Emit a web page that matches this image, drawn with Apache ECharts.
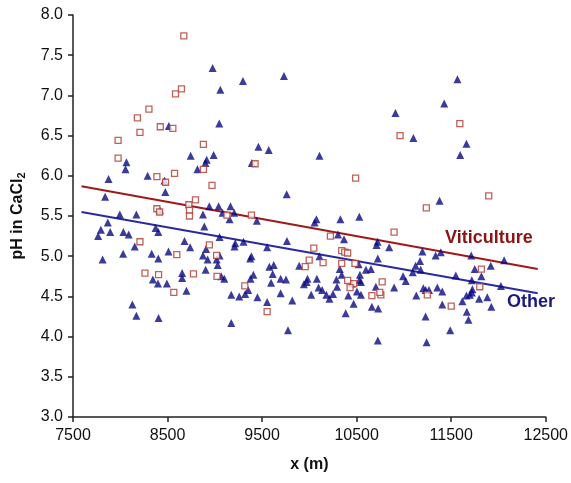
<!DOCTYPE html>
<html>
<head>
<meta charset="utf-8">
<script src="https://cdn.jsdelivr.net/npm/echarts@6/dist/echarts.min.js"></script>
<style>
  html, body { margin: 0; padding: 0; background: #fff; }
  #chart { width: 571px; height: 483px; }
</style>
</head>
<body>
<div id="chart"></div>
<script>
// x (m), pH in CaCl2
const otherPoints = [
  [8977, 7.34], [9058, 7.07], [9047, 6.65], [8514, 6.62], [8745, 6.25], [8987, 6.26], [8914, 6.20], [8900, 6.16],
  [8816, 6.08], [8065, 6.17], [8055, 6.08], [7876, 5.96], [8289, 6.00], [8468, 5.94], [8476, 5.80], [7840, 5.74],
  [8942, 5.62], [9040, 5.62], [9166, 5.62], [9297, 7.18], [9731, 7.24], [10910, 6.78], [9461, 6.36], [9570, 6.32],
  [10107, 6.25], [9391, 6.16], [9760, 5.77], [11566, 7.20], [11426, 6.90], [11100, 6.47], [11661, 6.40], [11595, 6.26],
  [11377, 5.69],
  [7995, 5.52], [8170, 5.52], [7868, 5.42], [7795, 5.33], [7893, 5.30], [7766, 5.25], [8033, 5.30], [8089, 5.27],
  [8374, 5.35], [8402, 5.30], [8419, 5.57], [8153, 5.12], [7813, 4.96], [8030, 5.03], [8332, 5.03], [8402, 4.97],
  [8510, 5.06], [8345, 4.71], [8398, 4.66], [8493, 4.66], [8128, 4.40], [8170, 4.26], [8405, 4.23],
  [8875, 5.52], [9082, 5.54], [9205, 5.54], [9156, 5.46], [9444, 5.44], [8889, 5.37], [9050, 5.24], [9216, 5.16],
  [9208, 5.12], [9303, 5.18], [8679, 5.19], [8739, 5.11], [8907, 5.09], [8875, 5.01], [8924, 4.96], [9050, 5.01],
  [9019, 4.96], [9030, 4.89], [9387, 5.00], [9374, 4.97], [8903, 4.83], [8654, 4.79], [8654, 4.73], [8700, 4.57],
  [9068, 4.75], [9100, 4.72], [9408, 4.77], [9377, 4.72], [9174, 4.52], [9258, 4.50], [9321, 4.53], [9353, 4.58],
  [9451, 4.49], [9174, 4.17],
  [10075, 5.46], [10055, 5.42], [10328, 5.46], [10303, 5.27], [10366, 5.21], [9763, 5.19], [9553, 5.11], [10107, 5.00],
  [9577, 4.87], [9623, 4.89], [9612, 4.78], [9696, 4.72], [9753, 4.71], [9595, 4.67], [9892, 4.88], [9980, 4.72],
  [9970, 4.68], [9942, 4.65], [10079, 4.72], [10097, 4.61], [10135, 4.58], [10180, 4.52], [10212, 4.47], [10250, 4.53],
  [10286, 4.71], [10293, 4.62], [10321, 4.84], [10342, 4.77], [10412, 4.51], [10450, 4.66], [10019, 4.52], [9819, 4.45],
  [9696, 4.54], [9553, 4.43], [10384, 4.29], [9774, 4.08],
  [10528, 5.49], [10721, 5.18], [10710, 5.14], [10844, 5.11], [11195, 5.06], [11335, 5.01], [11390, 5.05], [10724, 4.97],
  [11170, 4.94], [11124, 4.88], [11177, 4.83], [11093, 4.80], [10521, 4.90], [10598, 4.83], [10651, 4.84], [10535, 4.77],
  [10528, 4.70], [10545, 4.68], [10991, 4.75], [11019, 4.69], [10896, 4.61], [10703, 4.62], [10503, 4.56], [10545, 4.52],
  [11205, 4.60], [11230, 4.58], [11265, 4.58], [11353, 4.61], [11405, 4.56], [11131, 4.51], [10468, 4.41], [10661, 4.37],
  [10728, 4.35], [11405, 4.40], [11229, 4.25], [10724, 3.95], [11240, 3.93],
  [11712, 5.01], [12060, 4.95], [11918, 4.88], [11749, 4.84], [11819, 4.75], [11549, 4.76], [11718, 4.70], [12026, 4.63],
  [11724, 4.59], [11718, 4.55], [11697, 4.52], [11661, 4.51], [11618, 4.44], [11795, 4.47], [11882, 4.49], [11924, 4.37],
  [11665, 4.31], [11682, 4.21], [11489, 4.08]
]

const vitiPoints = [
  [8672, 7.74], [8584, 7.02], [8647, 7.08], [8303, 6.83], [8181, 6.72], [8208, 6.54], [8423, 6.61], [8556, 6.59],
  [7977, 6.44], [7977, 6.22], [8879, 6.39], [8879, 6.08], [8970, 5.88], [8387, 5.99], [8574, 6.03], [8479, 5.92],
  [8795, 5.70], [8725, 5.64], [8387, 5.59], [8416, 5.55],
  [9426, 6.15], [10489, 5.97], [10959, 6.50], [11591, 6.65], [11897, 5.75], [11237, 5.60],
  [8208, 5.18], [8261, 4.79], [8405, 4.77],
  [8732, 5.57], [8732, 5.50], [9128, 5.51], [9387, 5.51], [8942, 5.14], [8598, 5.02], [9019, 5.01], [8774, 4.78],
  [9023, 4.75], [9317, 4.63], [8566, 4.55],
  [10222, 5.25], [10047, 5.10], [10342, 5.07], [10374, 5.05], [9998, 4.95], [9956, 4.87], [10145, 4.92], [10342, 4.91],
  [10405, 4.70], [10468, 4.66], [10430, 4.61], [9553, 4.31],
  [10896, 5.30], [10482, 4.91], [10405, 5.04], [10770, 4.68], [10661, 4.51], [10756, 4.52], [10745, 4.55], [11247, 4.52],
  [11819, 4.84], [11802, 4.62], [11500, 4.38]
]

// trend lines (end points)
const vitiTrend = [[7590, 5.87], [12415, 4.84]]
const otherTrend = [[7590, 5.55], [12415, 4.54]]

const xTicks = { min: 7500, max: 12500, step: 1000 }
const yTicks = { min: 3, max: 8, step: 0.5 }

const chart = echarts.init(document.getElementById('chart'))
const font = 'Liberation Sans, Arial, sans-serif'

const option = {
  animation: false,
  textStyle: { fontFamily: font },
  grid: { left: 73, right: 23, top: 15, bottom: 66 },
  xAxis: {
    type: 'value',
    min: xTicks.min,
    max: xTicks.max,
    interval: xTicks.step,
    name: 'x (m)',
    nameLocation: 'middle',
    nameGap: 40,
    nameTextStyle: { color: '#111', fontSize: 16, fontWeight: 'bold', fontFamily: font },
    axisLine: { lineStyle: { color: '#222', width: 1.5 } },
    axisTick: { show: true, length: 5, lineStyle: { color: '#222', width: 1.5 } },
    axisLabel: { color: '#111', fontSize: 16, margin: 11, fontFamily: font, formatter: (v) => String(v) },
    splitLine: { show: false }
  },
  yAxis: {
    type: 'value',
    min: yTicks.min,
    max: yTicks.max,
    interval: yTicks.step,
    name: 'pH in CaCl{sub|2}',
    nameLocation: 'middle',
    nameGap: 46,
    nameTextStyle: {
      color: '#111', fontSize: 16, fontWeight: 'bold', fontFamily: font,
      rich: { sub: { fontSize: 11, fontWeight: 'bold', color: '#111', fontFamily: font, padding: [7, 0, 0, 0] } }
    },
    axisLine: { show: true, lineStyle: { color: '#222', width: 1.5 } },
    axisTick: { show: true, length: 5, lineStyle: { color: '#222', width: 1.5 } },
    axisLabel: {
      color: '#111', fontSize: 16, margin: 10, fontFamily: font,
      formatter: (v) => v.toFixed(1)
    },
    splitLine: { show: false }
  },
  series: [
    {
      name: 'Other',
      type: 'scatter',
      symbol: 'triangle',
      symbolSize: 8,
      itemStyle: { color: '#0a0a82' },
      data: otherPoints,
      z: 3
    },
    {
      name: 'Viticulture',
      type: 'scatter',
      symbol: 'rect',
      symbolSize: 6,
      itemStyle: { color: '#fff', borderColor: '#b03a30', borderWidth: 1.3 },
      data: vitiPoints,
      z: 4
    },
    {
      type: 'line',
      showSymbol: false,
      data: vitiTrend,
      lineStyle: { color: '#a01818', width: 2 },
      z: 2
    },
    {
      type: 'line',
      showSymbol: false,
      data: otherTrend,
      lineStyle: { color: '#2a2aa0', width: 2 },
      z: 2
    }
  ],
  graphic: [
    {
      type: 'text', left: 445, top: 229,
      style: { text: 'Viticulture', fill: '#8e1414', font: 'bold 18px ' + font }
    },
    {
      type: 'text', left: 507, top: 293,
      style: { text: 'Other', fill: '#1a1a80', font: 'bold 18px ' + font }
    }
  ]
}

chart.setOption(option)
</script>
</body>
</html>
